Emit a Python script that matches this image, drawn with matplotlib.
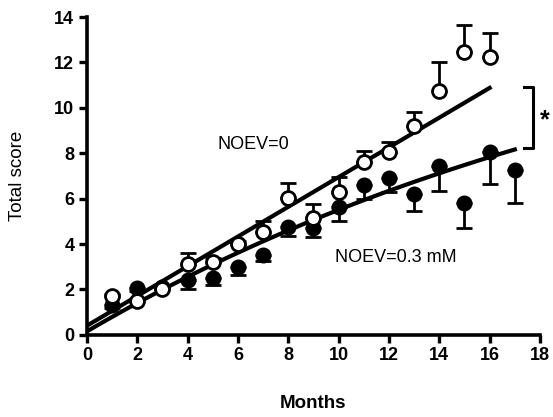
import numpy as np
import matplotlib
matplotlib.use("Agg")
import matplotlib.pyplot as plt

plt.rcParams['font.family'] = ['Liberation Sans', 'DejaVu Sans']

months_open = [1, 2, 3, 4, 5, 6, 7, 8, 9, 10, 11, 12, 13, 14, 15, 16]
score_open = [1.7, 1.5, 2.0, 3.1, 3.2, 4.0, 4.55, 6.05, 5.15, 6.3, 7.6, 8.05, 9.2, 10.75, 12.45, 12.25]
err_open = [0.1, 0.1, 0.2, 0.5, 0.2, 0.15, 0.45, 0.65, 0.6, 0.65, 0.5, 0.45, 0.6, 1.25, 1.2, 1.05]

months_fill = [1, 2, 3, 4, 5, 6, 7, 8, 9, 10, 11, 12, 13, 14, 15, 16, 17]
score_fill = [1.3, 2.05, 2.1, 2.42, 2.5, 3.0, 3.5, 4.75, 4.7, 5.65, 6.6, 6.9, 6.2, 7.45, 5.8, 8.05, 7.25]
err_fill = [0.1, 0.1, 0.1, 0.4, 0.3, 0.35, 0.25, 0.4, 0.4, 0.65, 0.6, 0.6, 0.75, 1.1, 1.1, 1.4, 1.45]

# fitted curves (parameters)
lin_intercept, lin_slope, lin_xmax = 0.4, 0.655, 16
sat_offset, sat_amp, sat_rate, sat_xmax = 0.15, 16.25, 0.04, 17

x_ticks = [0, 2, 4, 6, 8, 10, 12, 14, 16, 18]
y_ticks = [0, 2, 4, 6, 8, 10, 12, 14]

fig = plt.figure(figsize=(5.53, 4.17), dpi=100)
ax = fig.add_axes([0.157, 0.197, 0.8195, 0.762])

# fit lines
xl = np.linspace(0, lin_xmax, 100)
ax.plot(xl, lin_intercept + lin_slope * xl, color='black', lw=3, zorder=2)
xs = np.linspace(0, sat_xmax, 100)
ax.plot(xs, sat_offset + sat_amp * (1 - np.exp(-sat_rate * xs)), color='black', lw=3, zorder=2)

# error bars (one-sided)
ax.errorbar(months_open, score_open, yerr=[np.zeros(len(err_open)), err_open], fmt='none',
            ecolor='black', elinewidth=2, capsize=6, capthick=2, zorder=3)
ax.errorbar(months_fill, score_fill, yerr=[err_fill, np.zeros(len(err_fill))], fmt='none',
            ecolor='black', elinewidth=2, capsize=6, capthick=2, zorder=3)

ax.plot(months_fill, score_fill, 'o', ms=10, mfc='black', mec='black', mew=1.5, zorder=4)
ax.plot(months_open, score_open, 'o', ms=10, mfc='white', mec='black', mew=2, zorder=5)

ax.set_xlim(0, 18)
ax.set_ylim(0, 14)
ax.set_xticks(x_ticks)
ax.set_yticks(y_ticks)
for s in ['top', 'right']:
    ax.spines[s].set_visible(False)
for s in ['left', 'bottom']:
    ax.spines[s].set_linewidth(2.6)
ax.tick_params(axis='both', direction='out', length=6, width=2.4, labelsize=13, pad=3)
for lbl in ax.get_xticklabels() + ax.get_yticklabels():
    lbl.set_fontweight('bold')

ax.set_xlabel('Months', fontsize=13.5, fontweight='bold', labelpad=22)
ax.set_ylabel('Total score', fontsize=13.5, labelpad=20)

ax.text(5.2, 8.37, 'NOEV=0', fontsize=13, va='center', ha='left')
ax.text(9.85, 3.4, 'NOEV=0.3 mM', fontsize=13, va='center', ha='left')

# significance bracket
bx0, bx1 = 17.35, 17.72
ax.plot([bx0, bx1, bx1, bx0], [10.9, 10.9, 8.22, 8.22], color='black', lw=2.2, clip_on=False)
ax.text(18.2, 9.45, '*', fontsize=18, fontweight='bold', ha='center', va='center', clip_on=False)

fig.savefig('out.png', dpi=100)
